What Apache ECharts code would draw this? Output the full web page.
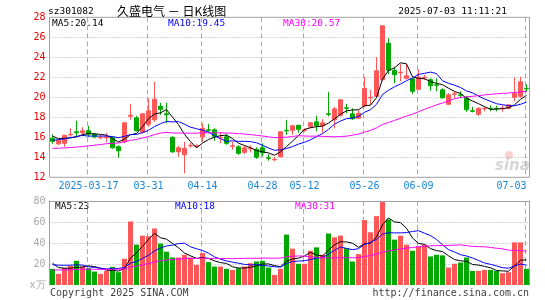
<!DOCTYPE html>
<html>
<head>
<meta charset="utf-8">
<script src="https://cdn.jsdelivr.net/npm/echarts@6/dist/echarts.min.js"></script>
<style>
html, body { margin: 0; padding: 0; background: #fff; }
#chart { width: 545px; height: 300px; }
</style>
</head>
<body>
<div id="chart"></div>
<script>
// trading days shown on the chart
const dates = [
    '2025-03-07','2025-03-10','2025-03-11','2025-03-12','2025-03-13','2025-03-14','2025-03-17','2025-03-18','2025-03-19','2025-03-20',
    '2025-03-21','2025-03-24','2025-03-25','2025-03-26','2025-03-27','2025-03-28','2025-03-31','2025-04-01','2025-04-02','2025-04-03',
    '2025-04-07','2025-04-08','2025-04-09','2025-04-10','2025-04-11','2025-04-14','2025-04-15','2025-04-16','2025-04-17','2025-04-18',
    '2025-04-21','2025-04-22','2025-04-23','2025-04-24','2025-04-25','2025-04-28','2025-04-29','2025-04-30','2025-05-06','2025-05-07',
    '2025-05-08','2025-05-09','2025-05-12','2025-05-13','2025-05-14','2025-05-15','2025-05-16','2025-05-19','2025-05-20','2025-05-21',
    '2025-05-22','2025-05-23','2025-05-26','2025-05-27','2025-05-28','2025-05-29','2025-05-30','2025-06-03','2025-06-04','2025-06-05',
    '2025-06-06','2025-06-09','2025-06-10','2025-06-11','2025-06-12','2025-06-13','2025-06-16','2025-06-17','2025-06-18','2025-06-19',
    '2025-06-20','2025-06-23','2025-06-24','2025-06-25','2025-06-26','2025-06-27','2025-06-30','2025-07-01','2025-07-02','2025-07-03'
];

const openPrice = [
    15.9,15.35,15.4,16.25,16.55,16.45,16.65,16.3,15.95,15.95,
    15.95,15.05,15.55,18.1,17.95,16.5,17.3,17.75,19.1,18.35,
    16.0,14.55,14.25,15.15,15.1,16.05,16.75,16.75,15.95,16.05,
    15.1,15.05,14.5,14.85,14.8,14.95,13.95,13.75,14.05,16.7,
    16.7,17.2,16.7,17.05,17.55,17.15,18.35,17.75,18.2,18.95,
    18.35,17.9,19.15,19.95,20.1,21.75,25.4,22.7,22.45,21.9,
    21.85,20.8,21.95,21.75,21.25,20.75,19.3,20.3,20.25,19.95,
    18.65,18.3,18.85,18.9,18.9,18.85,18.9,20.0,20.1,20.9
];
const closePrice = [
    15.6,15.7,16.2,16.3,16.45,16.65,16.3,16.05,16.0,16.05,
    14.95,14.65,17.45,18.2,16.65,18.35,18.65,19.8,18.8,18.25,
    14.55,14.95,14.9,15.2,15.15,16.9,16.7,16.1,16.0,15.4,
    15.15,14.4,14.95,14.9,14.0,14.45,13.9,13.8,16.55,16.65,
    17.15,16.8,16.75,17.45,17.15,17.45,18.3,18.85,19.75,18.9,
    17.85,18.4,20.9,20.0,22.65,27.15,22.7,22.25,22.5,22.15,
    20.6,22.0,22.0,21.15,21.2,19.95,20.25,20.35,20.2,18.75,
    18.6,18.9,18.9,18.85,18.85,18.9,19.25,20.4,21.55,20.85
];
const lowPrice = [
    15.35,15.2,15.05,16.05,16.1,16.15,16.05,15.9,15.8,15.5,
    14.85,13.95,15.4,17.75,16.6,16.4,17.05,17.55,18.25,17.4,
    14.45,14.05,12.4,14.95,14.95,15.55,16.4,15.65,15.4,15.25,
    14.75,14.25,14.3,14.5,13.85,14.1,13.65,13.6,14.0,16.25,
    16.25,16.45,16.55,16.9,16.6,16.45,18.1,16.9,18.1,18.4,
    17.75,17.85,19.0,19.25,20.0,21.7,22.3,21.4,21.6,21.8,
    20.35,20.75,21.75,20.65,20.6,19.85,19.25,19.95,19.9,18.55,
    18.5,18.15,18.6,18.6,18.6,18.55,18.85,19.6,19.95,20.55
];
const highPrice = [
    16.3,15.75,16.25,16.9,17.65,17.0,17.15,16.45,16.25,16.45,
    16.1,15.2,17.5,19.35,18.15,18.4,19.9,21.55,19.45,19.45,
    16.1,15.15,15.55,15.45,15.3,17.4,17.35,16.9,16.5,16.35,
    15.55,15.2,15.15,15.2,15.0,15.4,14.3,14.05,16.6,17.75,
    17.25,17.25,16.9,17.55,18.15,17.8,20.55,19.05,19.8,19.35,
    18.9,18.7,22.05,20.75,24.0,27.2,25.9,23.05,23.35,23.3,
    21.9,22.8,22.25,21.9,21.9,20.9,20.4,20.65,20.6,20.15,
    19.05,19.0,19.05,19.2,19.15,19.2,19.3,22.0,22.05,21.3
];
// volume, in 万 (10k) lots
const volume = [
    15.4,10.6,16.3,18.2,23.0,17.6,16.0,12.8,10.6,13.4,
    17.3,12.2,25.0,60.5,38.4,47.0,46.4,53.8,39.4,31.7,
    26.2,26.2,28.8,26.2,19.2,30.4,21.8,17.6,17.6,15.4,
    14.4,16.0,17.6,20.8,22.4,23.0,16.6,9.6,15.4,48.0,
    34.6,20.2,20.2,32.6,35.8,28.8,49.0,45.4,47.0,35.2,
    22.4,29.4,61.8,50.2,65.6,79.0,62.4,43.2,47.0,38.4,
    32.6,36.8,38.4,27.2,28.8,28.2,16.6,20.2,21.4,26.2,
    13.4,13.4,14.4,14.4,13.4,11.2,12.2,40.6,40.6,15.4
];

// sessions before the window (not drawn), estimated from where the MA lines start
const closeBefore = [
    15.4,15.2,15.3,15.1,14.8,14.5,14.2,13.9,13.6,13.5,
    13.8,13.7,13.9,14.1,14.0,14.2,14.0,14.1,16.4,16.4,
    14.8,15.5,15.2,15.3,15.5,17.0,16.0,16.1,15.9
];
const volumeBefore = [
    14,13,15,12,14,13,16,14,13,12,
    14,13,10,9,11,8,9,10,9,11,
    14,17,18,19,20,31.6,19.3,18.2,19.5
];

const tickDates = ['2025-03-17','2025-03-31','2025-04-14','2025-04-28','2025-05-12','2025-05-26','2025-06-09','2025-07-03'];
const tickLabels = ['2025-03-17','03-31','04-14','04-28','05-12','05-26','06-09','07-03'];

const UP = '#ff5757';
const DOWN = '#00a800';
const MA5_COLOR = '#000000';
const MA10_COLOR = '#0000ff';
const MA30_COLOR = '#ff00ff';
const FRAME = '#a0a0a0';
const GUIDE = '#aaaaaa';
const MONO = '"DejaVu Sans Mono", monospace';

function movingAverage(values, before, n) {
    const all = before.concat(values);
    return values.map((_, i) => {
        const end = before.length + i + 1;
        let sum = 0;
        for (let k = end - n; k < end; k++) {
            sum += all[k];
        }
        return +(sum / n).toFixed(2);
    });
}

const showTick = (index, value) => tickDates.indexOf(value) >= 0;

const candles = dates.map((d, i) => [openPrice[i], closePrice[i], lowPrice[i], highPrice[i]]);
const volumeBars = volume.map((v, i) => ({
    value: v,
    itemStyle: { color: closePrice[i] >= openPrice[i] ? UP : DOWN }
}));

function maLine(name, data, color, xi, yi) {
    return {
        name: name,
        type: 'line',
        xAxisIndex: xi,
        yAxisIndex: yi,
        data: data,
        showSymbol: false,
        symbol: 'none',
        smooth: false,
        lineStyle: { width: 1, color: color },
        itemStyle: { color: color }
    };
}

// vertical guide at each labelled date, built from short solid pieces (5 on, 3 off)
function dateGuides(xi, yi, yBase) {
    return {
        type: 'custom',
        xAxisIndex: xi,
        yAxisIndex: yi,
        data: tickDates.map((d) => [dates.indexOf(d), yBase]),
        renderItem: (params, api) => {
            const pt = api.coord([api.value(0), api.value(1)]);
            const x = Math.round(pt[0]) - 2;
            const rect = params.coordSys;
            const pieces = [];
            for (let y = rect.y; y < rect.y + rect.height; y += 8) {
                pieces.push({
                    type: 'rect',
                    shape: { x: x, y: y, width: 1, height: Math.min(5, rect.y + rect.height - y) },
                    style: { fill: GUIDE }
                });
            }
            return { type: 'group', children: pieces };
        }
    };
}

function label(text, x, y, color, size, align) {
    return {
        type: 'text',
        x: x,
        y: y,
        silent: true,
        style: {
            text: text,
            fill: color,
            font: size + 'px ' + MONO,
            align: align || 'left',
            textAlign: align || 'left',
            verticalAlign: 'middle',
            textVerticalAlign: 'middle'
        }
    };
}

const chart = echarts.init(document.getElementById('chart'), null, { renderer: 'canvas' });

chart.setOption({
    animation: false,
    grid: [
        { left: 49.5, width: 480, top: 17.3, height: 160, show: true, borderColor: FRAME, borderWidth: 1, backgroundColor: 'rgba(0,0,0,0)' },
        { left: 49.5, width: 480, top: 201, height: 84 }
    ],
    xAxis: [
        {
            type: 'category',
            gridIndex: 0,
            data: dates,
            boundaryGap: true,
            axisLine: { show: false, onZero: false },
            axisTick: { show: false },
            axisLabel: {
                interval: showTick,
                formatter: (v) => tickLabels[tickDates.indexOf(v)],
                color: '#1a86d8',
                fontSize: 10,
                fontFamily: MONO,
                margin: 4,
                alignMaxLabel: 'right'
            },
            splitLine: { show: false }
        },
        {
            type: 'category',
            gridIndex: 1,
            data: dates,
            position: 'top',
            boundaryGap: true,
            axisLine: { show: true, onZero: false, lineStyle: { color: FRAME } },
            axisTick: { show: false },
            axisLabel: { show: false },
            splitLine: { show: false }
        }
    ],
    yAxis: [
        {
            type: 'value',
            gridIndex: 0,
            min: 12,
            max: 28,
            interval: 2,
            axisLine: { show: false },
            axisTick: { show: false },
            axisLabel: { color: '#e60000', fontSize: 10, fontFamily: MONO, margin: 4 },
            splitLine: {
                show: true,
                showMinLine: false,
                showMaxLine: false,
                lineStyle: { color: GUIDE, type: [1, 2] }
            }
        },
        {
            type: 'value',
            gridIndex: 1,
            min: 0,
            max: 80,
            interval: 20,
            axisLine: { show: true, lineStyle: { color: FRAME } },
            axisTick: { show: false },
            axisLabel: {
                color: '#a8a8a8',
                fontSize: 10,
                fontFamily: MONO,
                margin: 4,
                formatter: (v) => (v === 0 ? 'x万' : String(v))
            },
            splitLine: {
                show: true,
                showMinLine: false,
                showMaxLine: false,
                lineStyle: { color: GUIDE, type: [1, 2] }
            }
        },
        {
            type: 'value',
            gridIndex: 1,
            position: 'right',
            min: 0,
            max: 80,
            axisLine: { show: true, lineStyle: { color: FRAME } },
            axisTick: { show: false },
            axisLabel: { show: false },
            splitLine: { show: false }
        }
    ],
    series: [
        dateGuides(0, 0, 20),
        dateGuides(1, 1, 40),
        {
            name: 'K',
            type: 'candlestick',
            xAxisIndex: 0,
            yAxisIndex: 0,
            data: candles,
            barWidth: 5,
            itemStyle: {
                color: UP,
                color0: DOWN,
                borderColor: UP,
                borderColor0: DOWN,
                borderWidth: 1
            }
        },
        maLine('MA5', movingAverage(closePrice, closeBefore, 5), MA5_COLOR, 0, 0),
        maLine('MA10', movingAverage(closePrice, closeBefore, 10), MA10_COLOR, 0, 0),
        maLine('MA30', movingAverage(closePrice, closeBefore, 30), MA30_COLOR, 0, 0),
        {
            name: 'VOL',
            type: 'bar',
            xAxisIndex: 1,
            yAxisIndex: 1,
            data: volumeBars,
            barWidth: 5
        },
        maLine('VMA5', movingAverage(volume, volumeBefore, 5), MA5_COLOR, 1, 1),
        maLine('VMA10', movingAverage(volume, volumeBefore, 10), MA10_COLOR, 1, 1),
        maLine('VMA30', movingAverage(volume, volumeBefore, 30), MA30_COLOR, 1, 1)
    ],
    graphic: [
        label('sz301082', 48, 12, '#000', 9.5),
        {
            type: 'text',
            x: 117,
            y: 11,
            silent: true,
            style: {
                text: '久盛电气 － 日K线图',
                fill: '#000',
                font: '12px "Noto Sans CJK SC", sans-serif',
                verticalAlign: 'middle',
                textVerticalAlign: 'middle'
            }
        },
        label('2025-07-03 11:11:21', 507, 12, '#000', 9.5, 'right'),
        label('MA5:20.14', 52, 24, MA5_COLOR, 9.5),
        label('MA10:19.45', 168, 24, MA10_COLOR, 9.5),
        label('MA30:20.57', 283, 24, MA30_COLOR, 9.5),
        label('MA5:23', 55, 207, MA5_COLOR, 9.5),
        label('MA10:18', 175, 207, MA10_COLOR, 9.5),
        label('MA30:31', 295, 207, MA30_COLOR, 9.5),
        label('Copyright 2025 SINA.COM', 50, 293, '#404040', 10),
        label('http://finance.sina.com.cn', 529, 293, '#404040', 10, 'right'),
        {
            type: 'circle',
            silent: true,
            shape: { cx: 509, cy: 155, r: 4 },
            style: { fill: 'rgba(240,120,120,0.35)' }
        },
        {
            type: 'text',
            x: 495,
            y: 166,
            silent: true,
            style: {
                text: 'sina',
                fill: 'rgba(180,180,180,0.55)',
                font: 'italic bold 15px "DejaVu Sans", sans-serif',
                verticalAlign: 'middle',
                textVerticalAlign: 'middle'
            }
        }
    ]
});
</script>
</body>
</html>
